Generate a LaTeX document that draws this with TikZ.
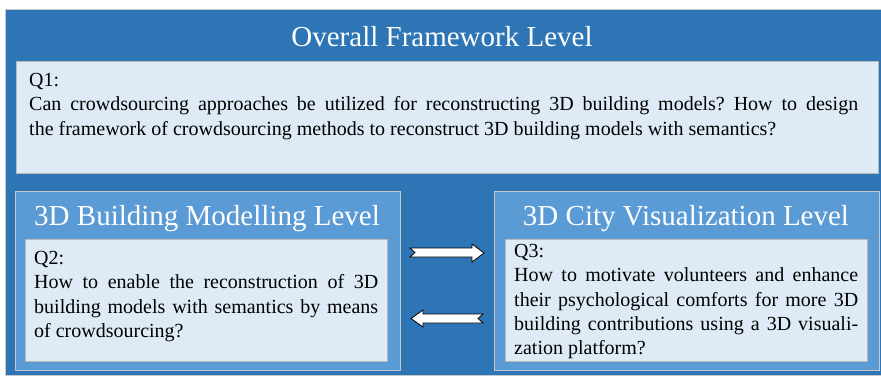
\documentclass[tikz,border=0pt]{standalone}
\usepackage{fontspec}
\setmainfont{Liberation Serif}
\frenchspacing
\hyphenpenalty=10000
\definecolor{darkblue}{HTML}{2E75B6}
\definecolor{midblue}{HTML}{5B9BD5}
\definecolor{paleblue}{HTML}{DEEBF7}
\definecolor{edgegray}{HTML}{C8C8C8}
\begin{document}
\begin{tikzpicture}[x=1pt,y=-1pt,
  panel/.style={draw=edgegray,line width=0.8pt,anchor=north west,inner sep=0pt},
  outerpanel/.style={panel,fill=darkblue},
  levelpanel/.style={panel,fill=midblue},
  qpanel/.style={panel,fill=paleblue,draw=gray!55},
  titletext/.style={text=white,font=\fontsize{29}{34}\selectfont,inner sep=0pt,anchor=base},
  qtext/.style={anchor=north west,inner sep=0pt,align=justify,font=\fontsize{20}{24.4}\selectfont},
  flowarrow/.style={fill=white,draw=black,line width=0.8pt,line join=miter}
]
\useasboundingbox (0,0) rectangle (881,375);
\node[outerpanel,minimum width=876pt,minimum height=366pt] (outer) at (5,9) {};
\node[titletext] (t1) at (442,46) {Overall Framework Level};
\node[qpanel,minimum width=862pt,minimum height=112pt] (q1box) at (16,61) {};
\node[qtext,text width=829pt] (q1) at (29,69) {\strut Q1:\\ Can crowdsourcing approaches be utilized for reconstructing 3D building models? How to design\linebreak the framework of crowdsourcing methods to reconstruct 3D building models with semantics?};

\node[levelpanel,minimum width=385pt,minimum height=179pt] (left) at (15,191) {};
\node[titletext] (t2) at (207,225) {3D Building Modelling Level};
\node[qpanel,minimum width=362pt,minimum height=122pt] (q2box) at (25,239) {};
\node[qtext,text width=344pt] (q2) at (34,247) {\strut Q2:\\ How to enable the reconstruction of 3D\linebreak building models with semantics by means\linebreak of crowdsourcing?};

\node[levelpanel,minimum width=385pt,minimum height=179pt] (right) at (494,191) {};
\node[titletext] (t3) at (686,225) {3D City Visualization Level};
\node[qpanel,minimum width=362pt,minimum height=122pt] (q3box) at (505,239) {};
\node[qtext,text width=344pt] (q3) at (514,240) {\strut Q3:\\ How to motivate volunteers and enhance\linebreak their psychological comforts for more 3D\linebreak building contributions using a 3D visuali-\linebreak zation platform?};

\draw[flowarrow] (410,248) -- (472,248) -- (472,244) -- (484,253) -- (472,262) -- (472,257) -- (410,257) -- (415,252.5) -- cycle;
\draw[flowarrow] (411,318.5) -- (423,310) -- (423,314) -- (483,314) -- (478,318.5) -- (483,323) -- (423,323) -- (423,327) -- cycle;
\end{tikzpicture}
\end{document}
